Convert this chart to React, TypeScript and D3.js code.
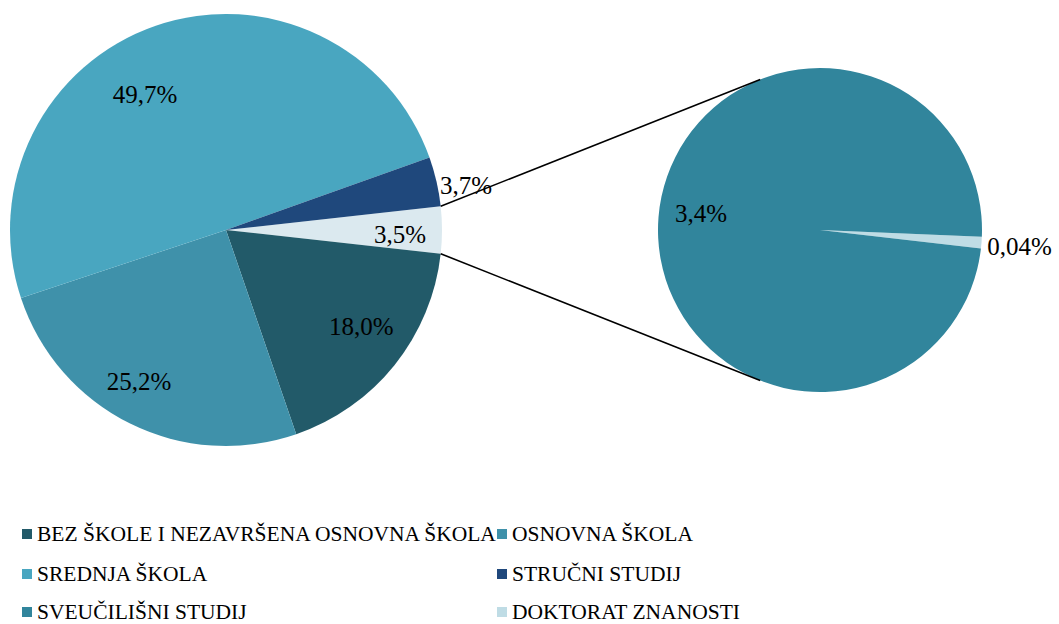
import React from "react";
import * as d3 from "d3";

// ---- data ----
const mainCategories = ["OSTALO", "BEZ ŠKOLE I NEZAVRŠENA OSNOVNA ŠKOLA", "OSNOVNA ŠKOLA", "SREDNJA ŠKOLA", "STRUČNI STUDIJ"];
const mainValues = [3.5, 18.0, 25.2, 49.7, 3.7];
const mainLabels = ["3,5%", "18,0%", "25,2%", "49,7%", "3,7%"];
const subCategories = ["DOKTORAT ZNANOSTI", "SVEUČILIŠNI STUDIJ"];
const subValues = [0.04, 3.4];
const subLabels = ["0,04%", "3,4%"];
const legendItems = [
  "BEZ ŠKOLE I NEZAVRŠENA OSNOVNA ŠKOLA",
  "OSNOVNA ŠKOLA",
  "SREDNJA ŠKOLA",
  "STRUČNI STUDIJ",
  "SVEUČILIŠNI STUDIJ",
  "DOKTORAT ZNANOSTI",
];

// ---- styles / layout ----
const colors: Record<string, string> = {
  "OSTALO": "#DBE9EF",
  "BEZ ŠKOLE I NEZAVRŠENA OSNOVNA ŠKOLA": "#225A69",
  "OSNOVNA ŠKOLA": "#3F91AA",
  "SREDNJA ŠKOLA": "#49A6C0",
  "STRUČNI STUDIJ": "#1F487C",
  "SVEUČILIŠNI STUDIJ": "#31859C",
  "DOKTORAT ZNANOSTI": "#BFDCE5",
};
// label placement: [screen angle deg (clockwise from east), radius factor]
const mainLabelPos: [number, number][] = [[1.6, 0.806], [35.6, 0.771], [119.8, 0.81], [-120.8, 0.733], [-10.5, 1.13]];
const subLabelPos: [number, number][] = [[4.6, 1.235], [-171.9, 0.742]];

const W = 1059, H = 624;
const mainC = { x: 226, y: 230, r: 216 };
const subC = { x: 820, y: 230, r: 162 };
const subStartDeg = 92.4;
const FONT = '"Liberation Serif", "Times New Roman", Times, "DejaVu Serif", serif';

const rad = (d: number) => (d * Math.PI) / 180;

export default function App() {
  const total = d3.sum(mainValues);
  const otherHalf = (mainValues[0] / total) * Math.PI; // half angle of other slice
  const mainPie = d3.pie<number>().sort(null).value((d) => d)
    .startAngle(Math.PI / 2 - otherHalf).endAngle(Math.PI / 2 - otherHalf + 2 * Math.PI);
  const mainArcs = mainPie(mainValues);
  const mainArc = d3.arc<d3.PieArcDatum<number>>().innerRadius(0).outerRadius(mainC.r);

  const subPie = d3.pie<number>().sort(null).value((d) => d)
    .startAngle(rad(subStartDeg)).endAngle(rad(subStartDeg) + 2 * Math.PI);
  const subArcs = subPie(subValues);
  const subArc = d3.arc<d3.PieArcDatum<number>>().innerRadius(0).outerRadius(subC.r);

  // connector lines: from edges of "other" slice, tangent to secondary pie
  const edge = (sign: number) => {
    const px = mainC.x + mainC.r * Math.cos(sign * otherHalf);
    const py = mainC.y + mainC.r * Math.sin(sign * otherHalf);
    const dx = px - subC.x, dy = py - subC.y;
    const d = Math.hypot(dx, dy);
    const phi = Math.atan2(dy, dx);
    const a = Math.acos(subC.r / d);
    const t = sign < 0 ? phi + a : phi - a;
    return { x1: px, y1: py, x2: subC.x + subC.r * Math.cos(t), y2: subC.y + subC.r * Math.sin(t) };
  };
  const lines = [edge(-1), edge(1)];

  const polar = (c: { x: number; y: number; r: number }, p: [number, number]) => ({
    x: c.x + p[1] * c.r * Math.cos(rad(p[0])),
    y: c.y + p[1] * c.r * Math.sin(rad(p[0])),
  });

  const legendX = [22, 497];
  const legendBase = [541, 581, 619];

  return (
    <svg width={W} height={H} style={{ position: "absolute", left: 0, top: 0, background: "#fff", fontFamily: FONT }}>
      <g transform={`translate(${mainC.x},${mainC.y})`}>
        {mainArcs.map((a, i) => (
          <path key={i} d={mainArc(a) || ""} fill={colors[mainCategories[i]]} />
        ))}
      </g>
      <g transform={`translate(${subC.x},${subC.y})`}>
        {subArcs.map((a, i) => (
          <path key={i} d={subArc(a) || ""} fill={colors[subCategories[i]]} />
        ))}
      </g>
      {lines.map((l, i) => (
        <line key={i} {...l} stroke="#000" strokeWidth={1.5} />
      ))}
      {mainLabels.map((t, i) => {
        const p = polar(mainC, mainLabelPos[i]);
        return (
          <text key={i} x={p.x} y={p.y} textAnchor="middle" dominantBaseline="central" fontSize={25} fill="#000" style={{ fontFamily: FONT }}>{t}</text>
        );
      })}
      {subLabels.map((t, i) => {
        const p = polar(subC, subLabelPos[i]);
        return (
          <text key={i} x={p.x} y={p.y} textAnchor="middle" dominantBaseline="central" fontSize={25} fill="#000" style={{ fontFamily: FONT }}>{t}</text>
        );
      })}
      {legendItems.map((t, i) => {
        const col = i % 2, row = Math.floor(i / 2);
        const x = legendX[col], y = legendBase[row];
        return (
          <g key={i}>
            <rect x={x} y={y - 12} width={10} height={10} fill={colors[t]} />
            <text x={x + 15} y={y} fontSize={21.5} fill="#000" style={{ fontFamily: FONT }}>{t}</text>
          </g>
        );
      })}
    </svg>
  );
}
